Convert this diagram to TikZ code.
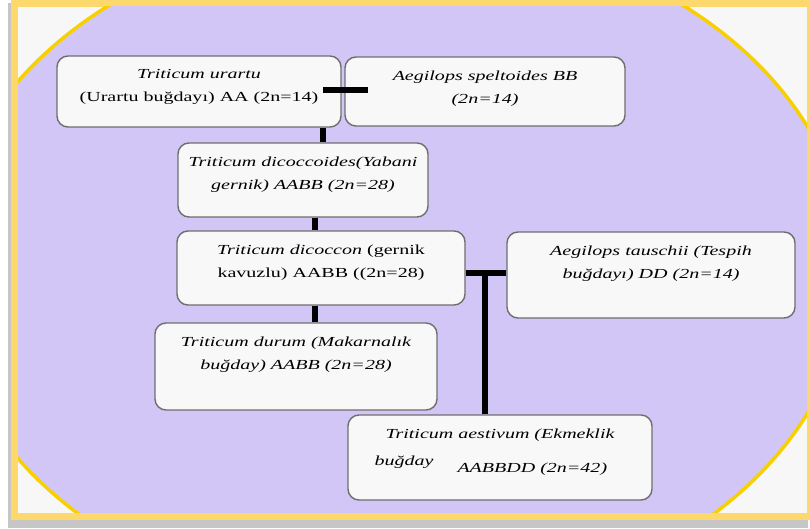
\documentclass[tikz,border=0pt]{standalone}
\usepackage{fontspec}
\setmainfont{Liberation Serif}[FakeStretch=1.45]
\usetikzlibrary{positioning, calc}
\definecolor{framey}{HTML}{FDD86C}
\definecolor{ovaly}{HTML}{F8D000}
\definecolor{ovalfill}{HTML}{D2C6F6}
\definecolor{pagebg}{HTML}{F7F7F7}
\definecolor{boxfill}{HTML}{F8F8F8}
\definecolor{boxline}{HTML}{6E6E6E}

\begin{document}
\begin{tikzpicture}[x=1pt,y=1pt,
box/.style={draw=boxline,fill=boxfill,line width=1.4pt,rounded corners=11pt,inner sep=0pt},
txt/.style={align=center,inner sep=0pt,font=\fontsize{13.8}{23}\selectfont\itshape},
link/.style={line width=6pt,black}]
\useasboundingbox (0,0) rectangle (810,529);
\fill[gray!45] (8,1) rectangle (808,526);
\fill[framey] (11,9) rectangle (811,530);
\fill[pagebg] (18,16) rectangle (807,522);
\begin{scope}
\clip (18,16) rectangle (807,522);
\draw[ovaly,fill=ovalfill,line width=3.5pt] (396,259) ellipse [x radius=453pt, y radius=342pt];
\end{scope}

\node[box,minimum width=284pt,minimum height=71pt] (urartu) at (199,437.5) {};
\node[box,minimum width=280pt,minimum height=69pt] (speltoides) at (485,437.5) {};
\node[box,minimum width=250pt,minimum height=74pt] (dicoccoides) at (303,349) {};
\node[box,minimum width=288pt,minimum height=74pt] (dicoccon) at (321,261) {};
\node[box,minimum width=288pt,minimum height=86pt] (tauschii) at (651,254) {};
\node[box,minimum width=282pt,minimum height=87pt] (durum) at (296,162.5) {};
\node[box,minimum width=304pt,minimum height=85pt] (aestivum) at (500,71.5) {};

\node[txt,below=14pt of urartu.north] (urartuT) {Triticum urartu\\\textup{(Urartu buğdayı) AA (2n=14)}};
\node[txt,below=14pt of speltoides.north] (speltoidesT) {Aegilops speltoides BB\\(2n=14)};
\node[txt,below=14pt of dicoccoides.north] (dicoccoidesT) {Triticum dicoccoides(Yabani\\gernik) AABB (2n=28)};
\node[txt,below=14pt of dicoccon.north] (dicocconT) {Triticum dicoccon \textup{(gernik}\\\textup{kavuzlu) AABB ((2n=28)}};
\node[txt,below=14pt of tauschii.north] (tauschiiT) {Aegilops tauschii (Tespih\\buğdayı) DD (2n=14)};
\node[txt,below=14pt of durum.north] (durumT) {Triticum durum (Makarnalık\\buğday) AABB (2n=28)};
\node[txt,below=14pt of aestivum.north] (aestivumT) {Triticum aestivum (Ekmeklik};
\node[txt,anchor=north west] (aestivumB) at ([shift={(27pt,-41pt)}]aestivum.north west) {buğday};
\node[txt,anchor=north west] (aestivumC) at ([shift={(110pt,-48pt)}]aestivum.north west) {AABBDD (2n=42)};

\coordinate (j1) at (323,439);
\coordinate (j1e) at (368,439);
\coordinate (j2) at (315,0);
\coordinate (j3) at (485,256);
\draw[link] (j1) -- (j1e);
\draw[link] (urartu.south -| j1) -- (dicoccoides.north -| j1);
\draw[link] (dicoccoides.south -| j2) -- (dicoccon.north -| j2);
\draw[link] (dicoccon.south -| j2) -- (durum.north -| j2);
\draw[link] (dicoccon.east |- j3) -- (tauschii.west |- j3);
\draw[link] ([yshift=3pt]j3) -- (aestivum.north -| j3);
\end{tikzpicture}
\end{document}
